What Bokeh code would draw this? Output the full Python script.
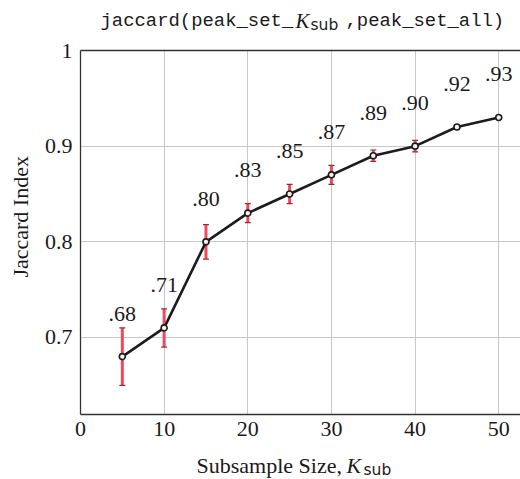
import math
from bokeh.plotting import figure
from bokeh.layouts import column, row
from bokeh.models import (Range1d, FixedTicker, CustomJSTickFormatter,
                          ColumnDataSource, Whisker, TeeHead, LinearAxis)
from bokeh.core.properties import value
from bokeh.embed import file_html
from bokeh.resources import INLINE

# ---- data ----
sizes = [5, 10, 15, 20, 25, 30, 35, 40, 45, 50]
jaccard = [0.68, 0.71, 0.80, 0.83, 0.85, 0.87, 0.89, 0.90, 0.92, 0.93]
err = [0.03, 0.02, 0.018, 0.01, 0.01, 0.01, 0.006, 0.006, 0.002, 0.002]
point_labels = [".68", ".71", ".80", ".83", ".85", ".87", ".89", ".90", ".92", ".93"]
x_ticks = [0, 10, 20, 30, 40, 50]
y_ticks = [0.7, 0.8, 0.9, 1.0]
title_parts = ["jaccard(peak_set_", "K", "sub", ",peak_set_all)"]
xlabel_parts = ["Subsample Size, ", "K", "sub"]
ylabel_text = "Jaccard Index"

SERIF = "Liberation Serif"
MONO = "Liberation Mono"
SANS = "DejaVu Sans"
INK = "#1a1a1a"

lower = [v - e for v, e in zip(jaccard, err)]
upper = [v + e for v, e in zip(jaccard, err)]
src = ColumnDataSource(dict(x=sizes, y=jaccard, lo=lower, hi=upper, lab=point_labels))

XMIN, XMAX = 0, 52.6
YMIN, YMAX = 0.6195, 1.0

TITLE_H, MAIN_H, XLAB_H = 32, 418, 29
YLAB_W, MAIN_W = 40, 480


def text_fig(w, h):
    f = figure(width=w, height=h, output_backend="svg", toolbar_location=None,
               x_range=Range1d(0, w), y_range=Range1d(0, h), title=None,
               x_axis_type=None, y_axis_type=None, min_border=0,
               outline_line_color=None)
    f.background_fill_color = "white"
    f.border_fill_color = "white"
    return f


def put(f, txt, x, y, font, size, style="normal", angle=0.0, align="left"):
    f.text(x=[x], y=[y], text=[txt], text_font=value(font), text_font_size=size,
           text_font_style=style, text_align=align, text_baseline="alphabetic",
           text_color=INK, angle=angle)


# ---- main plot ----
p = figure(width=MAIN_W, height=MAIN_H, output_backend="svg", toolbar_location=None,
           x_range=Range1d(XMIN, XMAX), y_range=Range1d(YMIN, YMAX),
           min_border_left=40, min_border_right=0, min_border_top=18,
           min_border_bottom=36, outline_line_color=None)
p.background_fill_color = "white"
p.border_fill_color = "white"

for g in (p.xgrid, p.ygrid):
    g.grid_line_color = "#c8c8c8"
    g.grid_line_width = 1
p.xgrid.ticker = FixedTicker(ticks=x_ticks)
p.ygrid.ticker = FixedTicker(ticks=y_ticks)

for ax in (p.xaxis[0], p.yaxis[0]):
    ax.axis_line_color = "#333333"
    ax.axis_line_width = 1.3
    ax.major_tick_in = 0
    ax.major_tick_out = 0
    ax.minor_tick_in = 0
    ax.minor_tick_out = 0
    ax.major_label_text_font = SERIF
    ax.major_label_text_font_size = "22px"
    ax.major_label_text_color = INK
    ax.major_label_standoff = 8

p.xaxis[0].ticker = FixedTicker(ticks=x_ticks)
p.yaxis[0].ticker = FixedTicker(ticks=y_ticks)
p.yaxis[0].formatter = CustomJSTickFormatter(
    code="return Math.abs(tick - 1) < 1e-9 ? '1' : tick.toFixed(1);")
p.xaxis[0].major_label_standoff = 7

top = LinearAxis(ticker=FixedTicker(ticks=[]), axis_line_color="#333333",
                 axis_line_width=1.3, major_tick_in=0, major_tick_out=0,
                 minor_tick_in=0, minor_tick_out=0, major_label_standoff=0,
                 major_label_text_font_size="0px")
p.add_layout(top, "above")

wh = Whisker(source=src, base="x", lower="lo", upper="hi",
             line_color="#f04a58", line_width=3,
             upper_head=TeeHead(size=6, line_color="#9a2a33", line_width=1.2),
             lower_head=TeeHead(size=6, line_color="#9a2a33", line_width=1.2),
             level="underlay")
p.add_layout(wh)

p.line("x", "y", source=src, line_color="#1c1c1c", line_width=2.6)
p.scatter("x", "y", source=src, size=6, line_color="#1c1c1c", line_width=1.6,
          fill_color="#f2f2f2")

p.text("x", "y", text="lab", source=src, text_font=value(SERIF),
       text_font_size="22px", text_align="center", text_baseline="alphabetic",
       y_offset=-43, text_color=INK)

# ---- title strip ----
t = text_fig(MAIN_W + YLAB_W, TITLE_H)
put(t, title_parts[0], 100, 12, MONO, "18.9px")
put(t, title_parts[1], 295, 12, SERIF, "21px", style="italic")
put(t, title_parts[2], 310, 8, SANS, "15.5px")
put(t, title_parts[3], 345, 12, MONO, "18.9px")

# ---- y label strip ----
yl = text_fig(YLAB_W, MAIN_H)
put(yl, ylabel_text, 20, 227, SERIF, "22px", angle=math.pi / 2, align="center")

# ---- x label strip ----
xl = text_fig(MAIN_W + YLAB_W, XLAB_H)
put(xl, xlabel_parts[0], 196, 14, SERIF, "22px")
put(xl, xlabel_parts[1], 346, 14, SERIF, "22px", style="italic")
put(xl, xlabel_parts[2], 363, 10, SANS, "15.5px")

layout = column(t, row(yl, p, spacing=0), xl, spacing=0)
open("out.html", "w").write(file_html(layout, INLINE))
